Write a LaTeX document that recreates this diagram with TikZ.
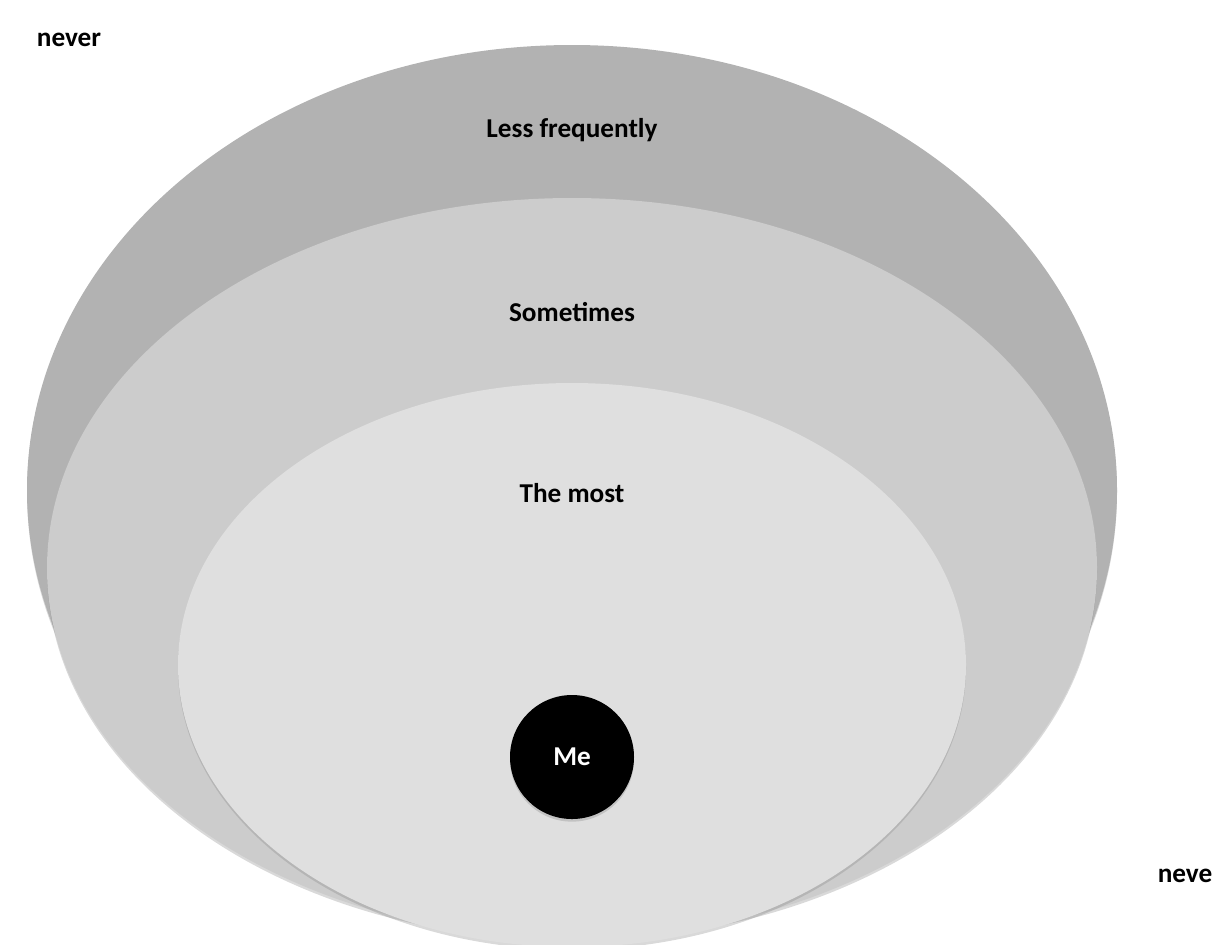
\documentclass[tikz,border=0pt]{standalone}
\usepackage{fontspec}
\setmainfont{Carlito}
\usetikzlibrary{shadows}

\begin{document}
\begin{tikzpicture}[x=0.02cm,y=-0.02cm,
  ring/.style={fill=#1,drop shadow={shadow xshift=0pt,shadow yshift=-1.5pt,opacity=.3}},
  lbl/.style={font=\fontsize{15.5}{18}\selectfont\bfseries,text=black}]
\useasboundingbox (0,0) rectangle (1219,944);
\fill[ring=gray!60] (572,490) ellipse [x radius=545,y radius=445];
\fill[ring=gray!40] (572,568) ellipse [x radius=525,y radius=370];
\fill[ring=gray!25] (572,665) ellipse [x radius=394,y radius=282];
\node[circle,fill=black,minimum size=124*0.02cm,inner sep=0pt,drop shadow={shadow xshift=0pt,shadow yshift=-1.5pt,opacity=.3},
  lbl,text=white] (me) at (572,757) {Me};
\node[lbl] (never) at (69,40) {never};
\node[lbl] (less) at (572,130) {Less frequently};
\node[lbl] (some) at (572,312) {Sometimes};
\node[lbl] (most) at (572,493) {The most};
\node[lbl] (neve) at (1185,876) {neve};
\end{tikzpicture}
\end{document}
